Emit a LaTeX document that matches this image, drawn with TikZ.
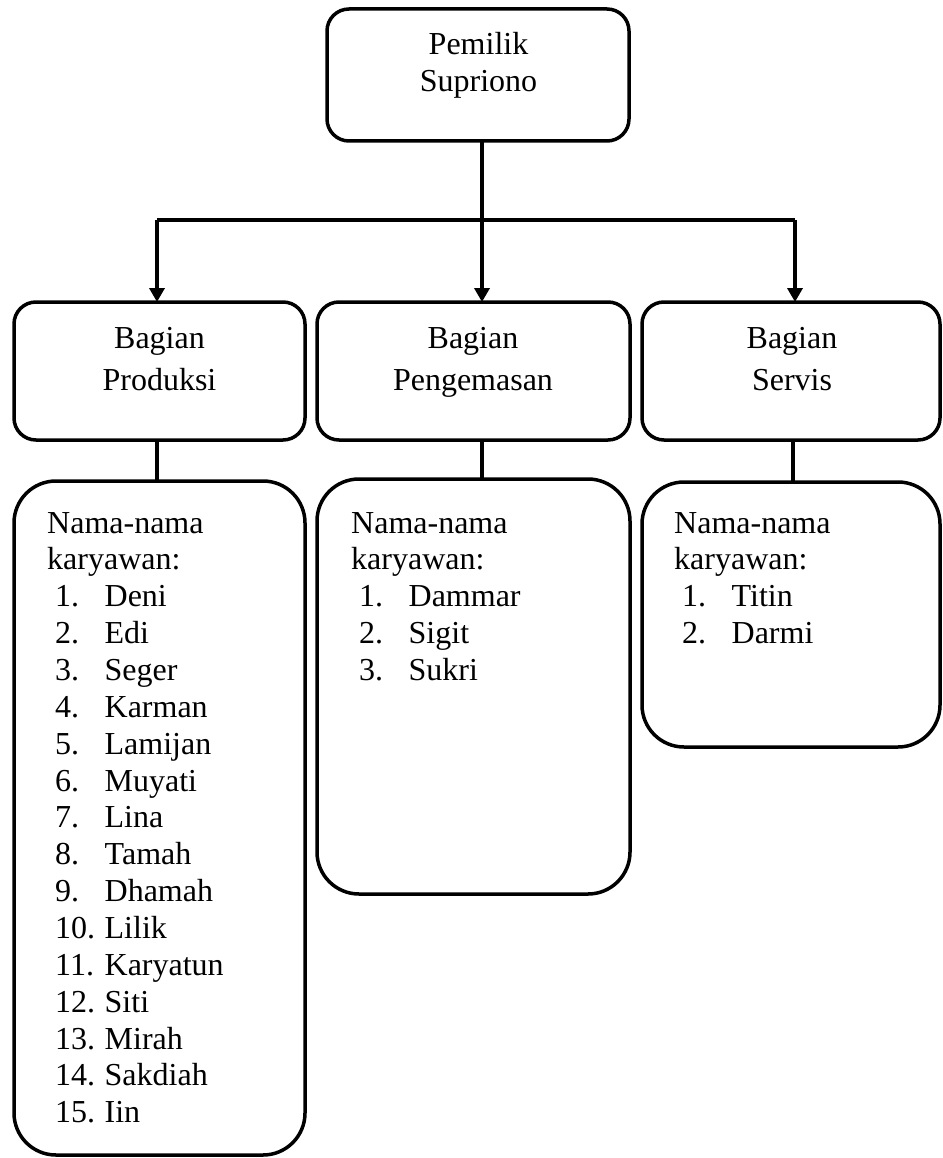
\documentclass[tikz,border=0pt]{standalone}
\usepackage{fontspec}
\setmainfont{Liberation Serif}
\usetikzlibrary{arrows.meta}
\newcommand\lsitem[2]{\hspace*{8pt}\makebox[49.5pt][l]{#1}#2}
\begin{document}
\begin{tikzpicture}[x=1pt,y=-1pt,
  box/.style={draw,line width=3.5pt,rounded corners=22pt,rectangle,inner sep=0pt,outer sep=0pt},
  listbox/.style={draw,line width=3.5pt,rounded corners=42pt,rectangle,inner sep=0pt,outer sep=0pt},
  conn/.style={line width=3.5pt},
  arr/.style={conn,-{Triangle[width=15pt,length=14pt]}},
  lbl/.style={font=\fontsize{32}{37}\selectfont,inner sep=0pt,anchor=base},
  lst/.style={font=\fontsize{32}{36.86}\selectfont,inner sep=0pt,anchor=base west},
]
\useasboundingbox (0,0) rectangle (942,1158);
% top box
\node[box,minimum width=302pt,minimum height=132pt,anchor=north west] (top) at (327,9) {};
\node[lbl] (topt1) at (478.5,55) {Pemilik};
\node[lbl] (topt2) at (478.5,92) {Supriono};
% second row
\node[box,minimum width=291pt,minimum height=138pt,anchor=north west] (prod) at (14,302) {};
\node[box,minimum width=313pt,minimum height=138pt,anchor=north west] (peng) at (317,302) {};
\node[box,minimum width=298pt,minimum height=138pt,anchor=north west] (serv) at (642,302) {};
\node[lbl] (prodt1) at (159.5,348) {Bagian};
\node[lbl] (prodt2) at (159.5,390) {Produksi};
\node[lbl] (pengt1) at (473,348) {Bagian};
\node[lbl] (pengt2) at (473,390) {Pengemasan};
\node[lbl] (servt1) at (792,348) {Bagian};
\node[lbl] (servt2) at (792,390) {Servis};
% list boxes
\node[listbox,minimum width=291pt,minimum height=674pt,anchor=north west] (prodl) at (14,481) {};
\node[listbox,minimum width=313pt,minimum height=415pt,anchor=north west] (pengl) at (317,479) {};
\node[listbox,minimum width=298pt,minimum height=265pt,anchor=north west] (servl) at (642,482) {};
\node[lst] (prodtxt) at (47,533) {\parbox[t]{250pt}{Nama-nama\\karyawan:\\
\lsitem{1.}{Deni}\\\lsitem{2.}{Edi}\\\lsitem{3.}{Seger}\\\lsitem{4.}{Karman}\\
\lsitem{5.}{Lamijan}\\\lsitem{6.}{Muyati}\\\lsitem{7.}{Lina}\\\lsitem{8.}{Tamah}\\
\lsitem{9.}{Dhamah}\\\lsitem{10.}{Lilik}\\\lsitem{11.}{Karyatun}\\\lsitem{12.}{Siti}\\
\lsitem{13.}{Mirah}\\\lsitem{14.}{Sakdiah}\\\lsitem{15.}{Iin}}};
\node[lst] (pengtxt) at (351,533) {\parbox[t]{260pt}{Nama-nama\\karyawan:\\
\lsitem{1.}{Dammar}\\\lsitem{2.}{Sigit}\\\lsitem{3.}{Sukri}}};
\node[lst] (servtxt) at (674,533) {\parbox[t]{250pt}{Nama-nama\\karyawan:\\
\lsitem{1.}{Titin}\\\lsitem{2.}{Darmi}}};
% connectors
\coordinate (jc) at (482,220);
\coordinate (jl) at (157,220);
\coordinate (jr) at (795,220);
\draw[conn] (top.south -| jc) -- (jc);
\draw[conn] (jl) -- (jr);
\draw[arr] (jc) -- (jc |- peng.north);
\draw[arr] (jl) -- (jl |- prod.north);
\draw[arr] (jr) -- (jr |- serv.north);
\draw[conn] (prod.south -| jl) -- (prodl.north -| jl);
\draw[conn] (peng.south -| jc) -- (pengl.north -| jc);
\draw[conn] (serv.south -| 793,0) -- (servl.north -| 793,0);
\end{tikzpicture}
\end{document}
